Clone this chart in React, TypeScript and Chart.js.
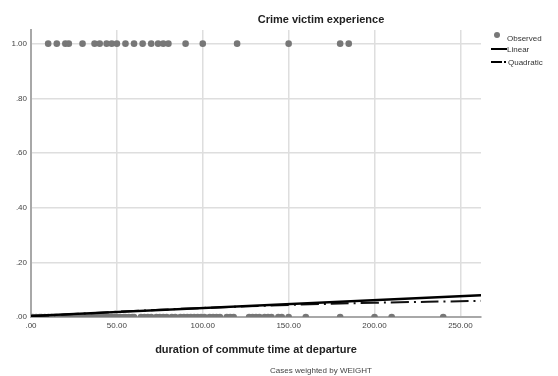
import React, { useEffect, useRef } from "react";
import { Chart, registerables } from "chart.js";

Chart.register(...registerables);

// Observed cases (commute duration) with crime victim experience = 1
const observedOnesX = [10, 15, 20, 22, 30, 37, 40, 44, 47, 50, 55, 60, 65, 70, 74, 77, 80, 90, 100, 120, 150, 180, 185];
// Observed cases with value = 0
const observedZerosX = [1, 3, 5, 6, 8, 10, 12, 14, 15, 17, 19, 20, 22, 24, 25, 27, 29, 30, 32, 34, 35, 37, 39, 40, 42, 44, 45, 47, 49, 50, 52, 54, 55, 57, 59, 60, 64, 66, 68, 70, 73, 75, 77, 79, 82, 84, 87, 89, 91, 93, 95, 97, 99, 101, 104, 106, 108, 110, 114, 116, 118, 127, 129, 131, 133, 136, 138, 140, 144, 146, 150, 160, 180, 200, 210, 240];

// Fitted curves
const linearX = [0, 262];
const linearY = [0.004, 0.08];
const quadX = [0, 50, 100, 150, 200, 262];
const quadY = [0.002, 0.019, 0.033, 0.044, 0.052, 0.059];

const xTicks = [0, 50, 100, 150, 200, 250];
const xTickLabels = [".00", "50.00", "100.00", "150.00", "200.00", "250.00"];
const yTicks = [0, 0.2, 0.4, 0.6, 0.8, 1.0];
const yTickLabels = [".00", ".20", ".40", ".60", ".80", "1.00"];

export default function App() {
  const ref = useRef<HTMLCanvasElement>(null);

  useEffect(() => {
    const observed = [
      ...observedZerosX.map((x) => ({ x, y: 0 })),
      ...observedOnesX.map((x) => ({ x, y: 1 })),
    ];
    const chart = new Chart(ref.current!, {
      type: "scatter",
      data: {
        datasets: [
          {
            label: "Linear",
            data: linearX.map((x, i) => ({ x, y: linearY[i] })),
            showLine: true,
            borderColor: "#000",
            borderWidth: 2.5,
            pointRadius: 0,
            order: 0,
          },
          {
            label: "Quadratic",
            data: quadX.map((x, i) => ({ x, y: quadY[i] })),
            showLine: true,
            borderColor: "#111",
            borderWidth: 2,
            borderDash: [18, 5, 2, 5],
            tension: 0.4,
            pointRadius: 0,
            order: 1,
          },
          {
            label: "Observed",
            data: observed,
            backgroundColor: "#777",
            borderColor: "#777",
            borderWidth: 0,
            pointRadius: 3.3,
            clip: 0,
            order: 2,
          },
        ],
      },
      options: {
        animation: false,
        responsive: false,
        layout: { padding: { left: 0, right: 77, top: 30, bottom: 0 } },
        plugins: { legend: { display: false }, tooltip: { enabled: false } },
        scales: {
          x: {
            type: "linear",
            min: 0,
            max: 262,
            afterBuildTicks: (s: any) => {
              s.ticks = xTicks.map((v) => ({ value: v }));
            },
            afterFit: (s: any) => {
              s.height = 59;
            },
            ticks: {
              padding: 4,
              color: "#444",
              font: { family: "Liberation Sans, Arial, sans-serif", size: 8 },
              callback: (v: any) => xTickLabels[xTicks.indexOf(Number(v))] ?? "",
              maxRotation: 0,
            },
            grid: { color: "#dedede", lineWidth: 1.5, drawTicks: false },
            border: { color: "#a8a8a8", width: 2 },
          },
          y: {
            type: "linear",
            min: 0,
            max: 1.05,
            afterBuildTicks: (s: any) => {
              s.ticks = yTicks.map((v) => ({ value: v }));
            },
            afterFit: (s: any) => {
              s.width = 31;
            },
            ticks: {
              padding: 4,
              color: "#444",
              font: { family: "Liberation Sans, Arial, sans-serif", size: 8 },
              callback: (v: any) => {
                const i = yTicks.findIndex((t) => Math.abs(t - Number(v)) < 1e-6);
                return i >= 0 ? yTickLabels[i] : "";
              },
            },
            grid: { color: "#dedede", lineWidth: 1.5, drawTicks: false },
            border: { color: "#a8a8a8", width: 2 },
          },
        },
      },
    });
    return () => chart.destroy();
  }, []);

  const font = "Liberation Sans, Arial, sans-serif";
  return (
    <div style={{ position: "fixed", left: 0, top: 0, width: 558, height: 376, background: "#fff", overflow: "hidden" }}>
      <canvas ref={ref} width={558} height={376} style={{ position: "absolute", left: 0, top: 0 }} />
      <div style={{ position: "absolute", left: 321, top: 19, transform: "translate(-50%,-50%)", font: `bold 11px ${font}`, color: "#222", whiteSpace: "nowrap" }}>
        Crime victim experience
      </div>
      <div style={{ position: "absolute", left: 256, top: 349, transform: "translate(-50%,-50%)", font: `bold 11px ${font}`, color: "#222", whiteSpace: "nowrap" }}>
        duration of commute time at departure
      </div>
      <div style={{ position: "absolute", left: 321, top: 370, transform: "translate(-50%,-50%)", font: `8px ${font}`, color: "#444", whiteSpace: "nowrap" }}>
        Cases weighted by WEIGHT
      </div>
      {/* Legend */}
      <div style={{ position: "absolute", left: 497, top: 35, width: 6, height: 6, marginLeft: -3, marginTop: -3, borderRadius: 3, background: "#777" }} />
      <div style={{ position: "absolute", left: 507, top: 38, transform: "translateY(-50%)", font: `8px ${font}`, color: "#333", whiteSpace: "nowrap" }}>Observed</div>
      <div style={{ position: "absolute", left: 491, top: 48, width: 16, height: 2, background: "#000" }} />
      <div style={{ position: "absolute", left: 507, top: 49, transform: "translateY(-50%)", font: `8px ${font}`, color: "#333", whiteSpace: "nowrap" }}>Linear</div>
      <div style={{ position: "absolute", left: 491, top: 61, width: 11, height: 2, background: "#000" }} />
      <div style={{ position: "absolute", left: 504, top: 61, width: 2, height: 2, background: "#000" }} />
      <div style={{ position: "absolute", left: 508, top: 62, transform: "translateY(-50%)", font: `8px ${font}`, color: "#333", whiteSpace: "nowrap" }}>Quadratic</div>
    </div>
  );
}
